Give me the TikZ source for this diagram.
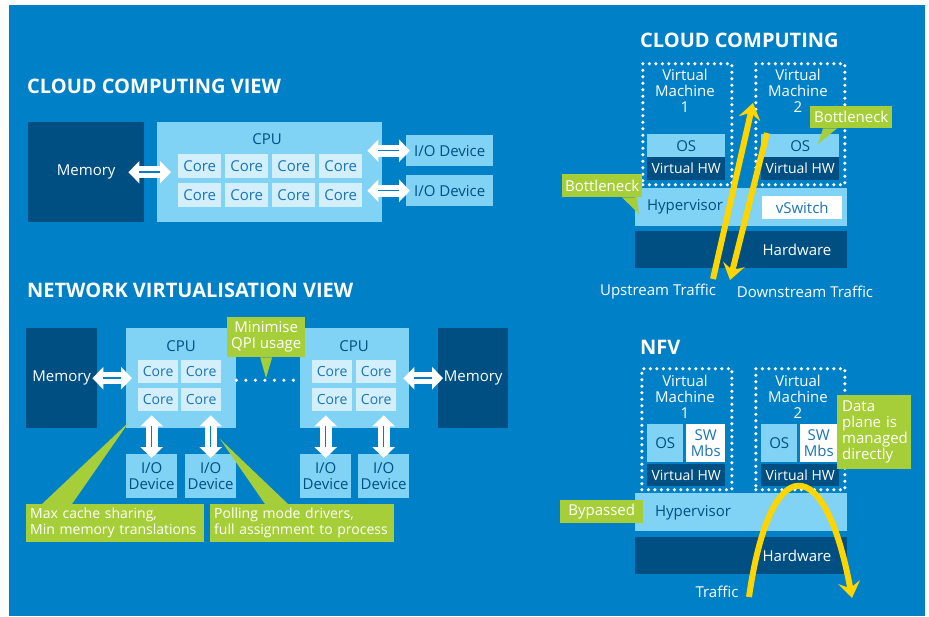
\documentclass[tikz,border=0pt]{standalone}
\usepackage{fontspec}
\setmainfont{Open Sans}
\usetikzlibrary{arrows.meta,positioning}
\definecolor{bgblue}{HTML}{0080C6}
\definecolor{navy}{HTML}{004F82}
\definecolor{lightblue}{HTML}{80D3F5}
\definecolor{paleblue}{HTML}{D3EFFB}
\definecolor{coreblue}{HTML}{1A74B8}
\definecolor{lime}{HTML}{A6CE39}
\definecolor{traffic}{HTML}{FFD500}

\begin{document}
\begin{tikzpicture}[x=1pt,y=-1pt,
        every node/.style={font=\fontsize{15}{16}\selectfont, inner sep=0pt, align=center},
        box/.style 2 args={minimum width=#1, minimum height=#2, anchor=north west},
        dark/.style={fill=navy, text=white},
        light/.style={fill=lightblue, text=navy},
        core/.style={fill=paleblue, text=coreblue},
        note/.style={fill=lime, text=white},
        small/.style={font=\fontsize{14}{16}\selectfont},
        title/.style={text=white, anchor=west, font=\bfseries\fontsize{20}{22}\selectfont},
        dbl/.style={white, line width=12pt,
            arrows={Triangle[width=22pt,length=11pt]-Triangle[width=22pt,length=11pt]},
            postaction={draw=bgblue, line width=1.5pt, arrows=-, shorten <=11pt, shorten >=11pt}},
        vm/.style={draw=white, line width=3.5pt, line cap=round, dash pattern=on 0pt off 6.5pt},
        qpilink/.style={draw=white, line width=3.5pt, line cap=round, dash pattern=on 0pt off 9.5pt},
        flow/.style={draw=traffic, line width=6pt, -{Stealth[length=16pt,width=22pt,inset=6pt]}}]
    \useasboundingbox (0,0) rectangle (929,616);
    \fill[bgblue] (9,5) rectangle (925,616);

    % cloud computing view
    \node[title] (t1) at (27,86) {CLOUD COMPUTING VIEW};
    \node[dark, box={116}{100}] (mem) at (28,122) {Memory};
    \node[light, box={225}{100}] (cpu) at (157,122) {};
    \node[text=navy] (cpu-t) at (267,139) {CPU};
    \foreach \r/\y in {1/154,2/183}
        \foreach \c/\x in {1/178,2/225,3/272,4/319}
            \node[core, box={43}{24}] (core\r\c) at (\x,\y) {Core};
    \node[light, box={87}{31}] (io1) at (406,135) {I/O Device};
    \node[light, box={87}{31}] (io2) at (406,175) {I/O Device};
    \draw[dbl] ([xshift=-16pt]mem.east) -- ([xshift=14pt]cpu.west);
    \draw[dbl] ([xshift=-15pt]cpu.east |- io1.west) -- ([xshift=4pt]io1.west);
    \draw[dbl] ([xshift=-15pt]cpu.east |- io2.west) -- ([xshift=4pt]io2.west);

    % network virtualisation view
    \node[title] (t2) at (27,290) {NETWORK VIRTUALISATION VIEW};
    \node[dark, box={71}{100}] (meml) at (26,328) {Memory};
    \node[dark, box={70}{100}] (memr) at (438,328) {Memory};
    \node[light, box={110}{100}] (cpul) at (126,328) {};
    \node[light, box={109}{100}] (cpur) at (300,328) {};
    \node[text=navy] (cpul-t) at (181,346) {CPU};
    \node[text=navy] (cpur-t) at (354,346) {CPU};
    \foreach \r/\y in {1/360,2/388}
        \foreach \c/\x in {1/138,2/181,3/312,4/356}
            \node[core, small, box={40}{23}] (ncore\r\c) at (\x,\y) {Core};
    \foreach \i/\x in {1/126,2/185,3/300,4/358}
        \node[light, box={51}{44}] (nio\i) at (\x,454) {I/O\\Device};
    \draw[dbl] ([xshift=-5pt]meml.east) -- ([xshift=6pt]cpul.west);
    \draw[dbl] ([xshift=-6pt]cpur.east) -- ([xshift=5pt]memr.west);
    \draw[dbl] ([yshift=-4pt]nio1.north) -- ([yshift=13pt]nio1.north |- cpul.south);
    \draw[dbl] ([yshift=-4pt]nio2.north) -- ([yshift=13pt]nio2.north |- cpul.south);
    \draw[dbl] ([yshift=-4pt]nio3.north) -- ([yshift=13pt]nio3.north |- cpur.south);
    \draw[dbl] ([yshift=-4pt]nio4.north) -- ([yshift=13pt]nio4.north |- cpur.south);
    \draw[qpilink] ([yshift=-2pt]cpul.east) -- ([yshift=-2pt]cpur.west);
    \node[note, box={78}{40}] (qpi) at (227,317) {Minimise\\QPI usage};
    \coordinate (qpitip) at (266,378);
    \fill[lime] ([xshift=-6pt]qpi.south) -- (qpitip) -- ([xshift=6pt]qpi.south) -- cycle;
    \node[note, small, box={178}{38}, text width=170, align=left] (cache) at (26,504)
        {Max cache sharing,\\Min memory translations};
    \node[note, small, box={184}{38}, text width=176, align=left] (poll) at (210,504)
        {Polling mode drivers,\\full assignment to process};
    \coordinate (cachetip) at (129,422);
    \coordinate (polltip) at (220,439);
    \fill[lime] ([xshift=16pt]cache.north west) -- (cachetip) -- ([xshift=46pt]cache.north west) -- cycle;
    \fill[lime] ([xshift=55pt]poll.north west) -- (polltip) -- ([xshift=78pt]poll.north west) -- cycle;

    % cloud computing
    \node[title] (t3) at (640,40) {CLOUD COMPUTING};
    \node[vm, box={89}{121}] (vm1) at (641,62) {};
    \node[vm, box={89}{121}] (vm2) at (754,62) {};
    \node[text=white] (vm1-t) at (685,91) {Virtual\\Machine\\1};
    \node[text=white] (vm2-t) at (798,91) {Virtual\\Machine\\2};
    \node[light, box={78}{23}] (os1) at (647,134) {OS};
    \node[light, box={78}{23}] (os2) at (761,134) {OS};
    \node[dark, small, box={78}{23}] (vhw1) at (647,157) {Virtual HW};
    \node[dark, small, box={78}{23}] (vhw2) at (761,157) {Virtual HW};
    \node[light, box={212}{38}] (hyp) at (635,188) {};
    \node[text=navy] (hyp-t) at (685,207) {Hypervisor};
    \node[fill=white, text=coreblue, box={80}{23}] (vsw) at (762,196) {vSwitch};
    \node[dark, box={212}{37}] (hw) at (635,231) {};
    \node[text=white] (hw-t) at (797,250) {Hardware};
    \node[note, box={80}{23}] (bn1) at (562,174) {Bottleneck};
    \node[note, box={82}{22}] (bn2) at (810,106) {Bottleneck};
    \coordinate (bn1tip) at (639,214);
    \coordinate (bn2tip) at (818,144);
    \fill[lime] ([xshift=60pt]bn1.south west) -- (bn1tip) -- ([xshift=75pt]bn1.south west) -- cycle;
    \fill[lime] ([xshift=13pt]bn2.south west) -- (bn2tip) -- ([xshift=27pt]bn2.south west) -- cycle;
    \coordinate (up0) at (713,279);
    \coordinate (up1) at (753,103);
    \coordinate (down0) at (767,133);
    \coordinate (down1) at (730,280);
    \draw[flow] (up0) -- (up1);
    \draw[flow] (down0) -- (down1);
    \node[text=white] (up-t) at (658,292) {Upstream Traffic};
    \node[text=white] (down-t) at (805,292) {Downstream Traffic};

    % nfv
    \node[title] (t4) at (640,347) {NFV};
    \node[vm, box={90}{121}] (nvm1) at (640,367) {};
    \node[vm, box={89}{121}] (nvm2) at (754,367) {};
    \node[text=white] (nvm1-t) at (685,397) {Virtual\\Machine\\1};
    \node[text=white] (nvm2-t) at (798,397) {Virtual\\Machine\\2};
    \node[light, box={36}{38}] (nos1) at (647,424) {OS};
    \node[light, box={36}{38}] (nos2) at (761,424) {OS};
    \node[fill=white, text=coreblue, box={39}{38}] (sw1) at (686,424) {SW\\Mbs};
    \node[fill=white, text=coreblue, box={37}{38}] (sw2) at (800,424) {SW\\Mbs};
    \node[dark, small, box={78}{22}] (nvhw1) at (647,464) {Virtual HW};
    \node[dark, small, box={78}{22}] (nvhw2) at (761,464) {Virtual HW};
    \node[light, box={212}{38}] (nhyp) at (635,493) {};
    \node[text=navy] (nhyp-t) at (693,513) {Hypervisor};
    \node[dark, box={212}{37}] (nhw) at (635,537) {};
    \node[text=white] (nhw-t) at (797,556) {Hardware};
    \node[note, box={83}{23}] (byp) at (560,500) {Bypassed};
    \node[note, box={74}{74}, text width=64, align=left] (dp) at (837,395)
        {Data\\plane is\\managed\\directly};
    \coordinate (tr0) at (749,597);
    \coordinate (tr1) at (852,598);
    \draw[flow] (tr0) .. controls (770,450) and (825,450) .. (tr1);
    \node[text=white] (tr-t) at (717,592) {Traffic};
\end{tikzpicture}
\end{document}
